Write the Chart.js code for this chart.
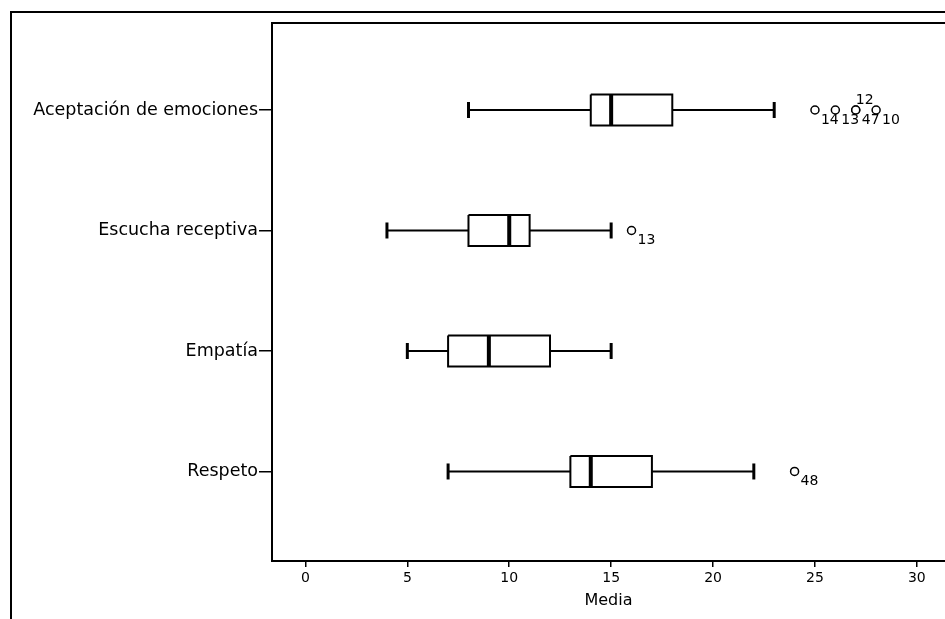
<!DOCTYPE html>
<html>
<head>
<meta charset="utf-8">
<script src="https://cdn.jsdelivr.net/npm/chart.js@4"></script>
<style>
    html, body { margin: 0; padding: 0; background: #fff; overflow: hidden; }
    #wrap { position: relative; width: 945px; height: 619px; }
    #frame { position: absolute; left: 10px; top: 11px; width: 960px; height: 640px;
             border-left: 2px solid #000; border-top: 2px solid #000; }
    canvas { position: absolute; left: 0; top: 0; }
</style>
</head>
<body>
<div id="wrap">
    <div id="frame"></div>
    <canvas id="boxChart" width="945" height="619"></canvas>
</div>
<script>
// box plot summaries
const categories = ['Aceptación de emociones', 'Escucha receptiva', 'Empatía', 'Respeto'];
const whiskerLow = [8, 4, 5, 7];
const q1 = [14, 8, 7, 13];
const median = [15, 10, 9, 14];
const q3 = [18, 11, 12, 17];
const whiskerHigh = [23, 15, 15, 22];
const outlierValues = [[25, 26, 27, 27, 28], [16], [], [24]];
const outlierLabels = [['14', '13', '47', '12', '10'], ['13'], [], ['48']];
const xTicks = [0, 5, 10, 15, 20, 25, 30];

const boxHalf = 0.128;
const black = '#000';

const datasets = [];
categories.forEach(function (name, i) {
    const y = i + 1;
    // whiskers with caps at the outer end
    datasets.push({
        data: [{x: whiskerLow[i], y: y}, {x: q1[i], y: y}],
        showLine: true, borderColor: black, borderWidth: 2,
        pointStyle: 'line', rotation: 90, pointRadius: [8, 0],
        pointBorderWidth: 3, pointBorderColor: black
    });
    datasets.push({
        data: [{x: q3[i], y: y}, {x: whiskerHigh[i], y: y}],
        showLine: true, borderColor: black, borderWidth: 2,
        pointStyle: 'line', rotation: 90, pointRadius: [0, 8],
        pointBorderWidth: 3, pointBorderColor: black
    });
    // the box
    datasets.push({
        data: [
            {x: q1[i], y: y - boxHalf}, {x: q3[i], y: y - boxHalf},
            {x: q3[i], y: y + boxHalf}, {x: q1[i], y: y + boxHalf},
            {x: q1[i], y: y - boxHalf}
        ],
        showLine: true, borderColor: black, borderWidth: 2,
        pointRadius: 0, fill: false
    });
    // median
    datasets.push({
        data: [{x: median[i], y: y - boxHalf}, {x: median[i], y: y + boxHalf}],
        showLine: true, borderColor: black, borderWidth: 4, pointRadius: 0
    });
    // outliers
    if (outlierValues[i].length) {
        datasets.push({
            data: outlierValues[i].map(v => ({x: v, y: y})),
            labels: outlierLabels[i],
            isOutlier: true,
            showLine: false, pointStyle: 'circle', pointRadius: 4,
            pointBorderWidth: 1.5, pointBorderColor: black, pointBackgroundColor: '#fff'
        });
    }
});

const frameAndLabels = {
    id: 'frameAndLabels',
    afterDatasetsDraw(chart) {
        const ctx = chart.ctx;
        const a = chart.chartArea;
        ctx.save();
        ctx.strokeStyle = black;
        ctx.lineWidth = 2;
        ctx.beginPath();
        ctx.moveTo(a.right + 5, a.top);
        ctx.lineTo(a.left, a.top);
        ctx.lineTo(a.left, a.bottom);
        ctx.lineTo(a.right + 5, a.bottom);
        ctx.stroke();

        ctx.fillStyle = black;
        ctx.font = '14px "DejaVu Sans"';
        ctx.textBaseline = 'middle';
        ctx.textAlign = 'left';
        chart.data.datasets.forEach(function (ds, di) {
            if (!ds.isOutlier) return;
            const meta = chart.getDatasetMeta(di);
            const seen = {};
            meta.data.forEach(function (pt, k) {
                const v = ds.data[k].x;
                if (seen[v]) {
                    ctx.fillText(ds.labels[k], pt.x, pt.y - 10);
                } else {
                    ctx.fillText(ds.labels[k], pt.x + 6, pt.y + 10);
                }
                seen[v] = true;
            });
        });
        ctx.restore();
    }
};

new Chart(document.getElementById('boxChart'), {
    type: 'scatter',
    data: { datasets: datasets },
    options: {
        responsive: false,
        animation: false,
        layout: { autoPadding: false, padding: { top: 23, left: 0, right: 0, bottom: 0 } },
        plugins: {
            legend: { display: false },
            tooltip: { enabled: false }
        },
        scales: {
            x: {
                type: 'linear',
                min: -1.64,
                max: 31.38,
                afterBuildTicks: function (scale) {
                    scale.ticks = xTicks.map(v => ({value: v}));
                },
                afterFit: function (scale) {
                    scale.height = 58;
                    scale.paddingLeft = 0;
                    scale.paddingRight = 0;
                },
                border: { display: false },
                grid: { drawOnChartArea: false, drawTicks: true, tickLength: 6, color: black, lineWidth: 1.5 },
                ticks: { color: black, padding: 3, maxRotation: 0, font: { family: 'DejaVu Sans', size: 14 } },
                title: {
                    display: true, text: 'Media', color: black,
                    font: { family: 'DejaVu Sans', size: 16 },
                    padding: { top: 4, bottom: 9 }
                }
            },
            y: {
                type: 'linear',
                reverse: true,
                min: 0.278,
                max: 4.743,
                afterBuildTicks: function (scale) {
                    scale.ticks = categories.map((c, i) => ({value: i + 1}));
                },
                afterFit: function (scale) {
                    scale.width = 272;
                    scale.paddingTop = 0;
                    scale.paddingBottom = 0;
                },
                border: { display: false },
                grid: { drawOnChartArea: false, drawTicks: true, tickLength: 13, color: black, lineWidth: 1.5 },
                ticks: {
                    color: black, padding: 1,
                    font: { family: 'DejaVu Sans', size: 17.5 },
                    callback: function (value) { return categories[Math.round(value) - 1]; }
                }
            }
        }
    },
    plugins: [frameAndLabels]
});
</script>
</body>
</html>
